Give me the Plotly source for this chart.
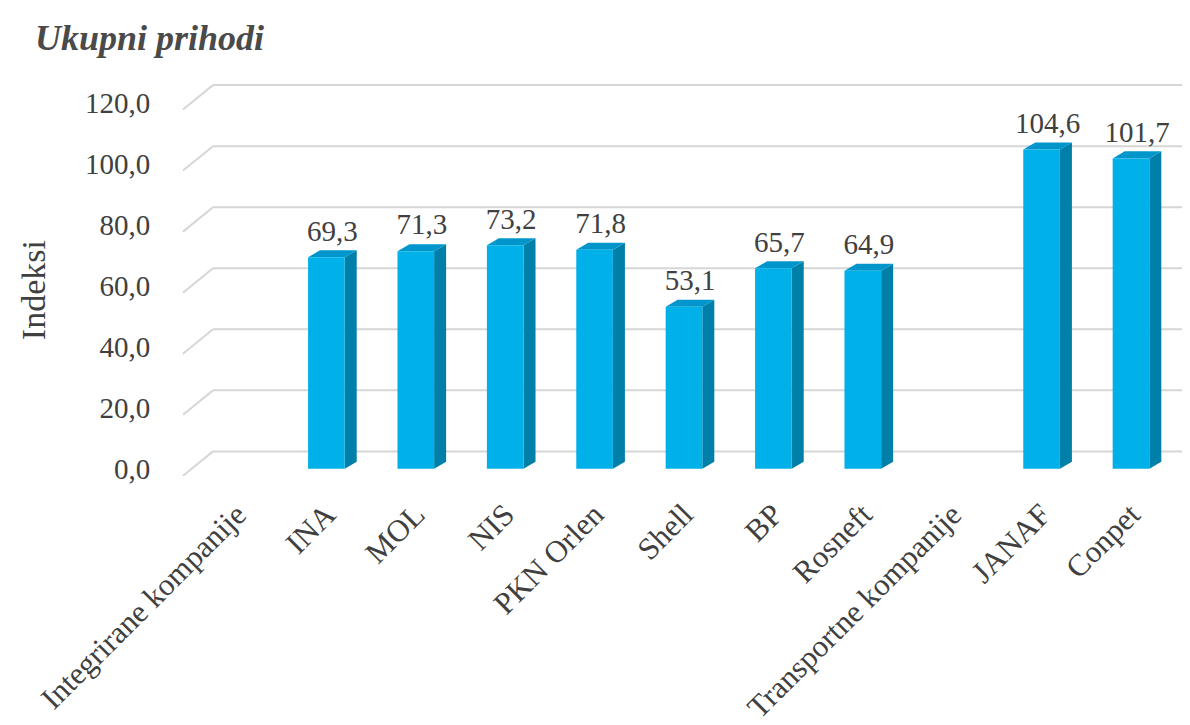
import plotly.graph_objects as go

categories = ["Integrirane kompanije", "INA", "MOL", "NIS", "PKN Orlen", "Shell",
              "BP", "Rosneft", "Transportne kompanije", "JANAF", "Conpet"]
values = [None, 69.3, 71.3, 73.2, 71.8, 53.1, 65.7, 64.9, None, 104.6, 101.7]
y_ticks = [0, 20, 40, 60, 80, 100, 120]

FRONT = "#00B0E8"
SIDE = "#007FA8"
TOP = "#0096CC"
GRID = "#D6D6D6"
TXT = "#404040"
FONT = "Liberation Serif"

OFF = 8  # default page body margin
W, H = 1190 - OFF, 725 - OFF
ML, MR, MT = 183 - OFF, 0, 72 - OFF
XR = [-0.604, 10.66]
YR = [-4, 130]
pw = W - ML - MR
px_y = 3.05
ph = (YR[1] - YR[0]) * px_y
MB = H - MT - ph
px_x = pw / (XR[1] - XR[0])

bw = 0.41
dx = 12 / px_x
dy = 7 / px_y

xs = list(range(len(categories)))
bx = [x for x, v in zip(xs, values) if v is not None]
bv = [v for v in values if v is not None]

fig = go.Figure()
fig.add_trace(go.Bar(x=bx, y=bv, width=bw, marker=dict(color=FRONT, line=dict(width=0)),
                     hoverinfo="skip", showlegend=False))
fig.add_trace(go.Scatter(x=[x + dx / 2 for x in bx], y=[v + dy + 0.8 for v in bv],
                         mode="text", text=[f"{v:.1f}".replace(".", ",") for v in bv],
                         textposition="top center",
                         textfont=dict(family=FONT, size=29, color=TXT),
                         hoverinfo="skip", showlegend=False))

shapes = []
gx0 = 0.0
gx1 = 30 / pw
back = 5.7
for v in y_ticks:
    shapes.append(dict(type="line", xref="paper", yref="y", x0=gx0, y0=v - 2.3, x1=gx1, y1=v + back,
                       line=dict(color=GRID, width=2), layer="below"))
    shapes.append(dict(type="line", xref="paper", yref="y", x0=gx1, y0=v + back, x1=1, y1=v + back,
                       line=dict(color=GRID, width=2), layer="below"))
for x, v in zip(bx, bv):
    x0 = x - bw / 2
    x1 = x + bw / 2
    side = f"M {x1},0 L {x1+dx},{dy} L {x1+dx},{v+dy} L {x1},{v} Z"
    top = f"M {x0},{v} L {x0+dx},{v+dy} L {x1+dx},{v+dy} L {x1},{v} Z"
    shapes.append(dict(type="path", xref="x", yref="y", path=side, fillcolor=SIDE,
                       line=dict(width=0), layer="below"))
    shapes.append(dict(type="path", xref="x", yref="y", path=top, fillcolor=TOP,
                       line=dict(width=0), layer="below"))


def px_to_paper_x(px):
    return (px - OFF - ML) / pw


def px_to_paper_y(py):
    return 1 - (py - OFF - MT) / ph


fig.update_layout(
    width=W, height=H,
    margin=dict(l=ML, r=MR, t=MT, b=MB, autoexpand=False),
    paper_bgcolor="white", plot_bgcolor="white",
    separators=",.",
    shapes=shapes,
    font=dict(family=FONT, color=TXT),
    xaxis=dict(range=XR, tickmode="array", tickvals=xs, ticktext=categories,
               tickangle=-45, tickfont=dict(family=FONT, size=31, color=TXT),
               showgrid=False, zeroline=False, showline=False,
               ticks="outside", ticklen=2, tickcolor="rgba(0,0,0,0)"),
    yaxis=dict(range=YR, tickmode="array", tickvals=y_ticks, tickformat=".1f",
               tickfont=dict(family=FONT, size=29, color=TXT),
               showgrid=False, zeroline=False, showline=False,
               ticks="outside", ticklen=26, tickcolor="rgba(0,0,0,0)"),
    annotations=[
        dict(text="Ukupni prihodi", xref="paper", yref="paper",
             x=px_to_paper_x(33), y=px_to_paper_y(38), xanchor="left", yanchor="middle",
             showarrow=False,
             font=dict(family=FONT, size=36, color="#4A4A4A", weight="bold", style="italic")),
        dict(text="Indeksi", xref="paper", yref="paper", textangle=-90,
             x=px_to_paper_x(33), y=px_to_paper_y(290),
             xanchor="center", yanchor="middle", showarrow=False,
             font=dict(family=FONT, size=34, color=TXT)),
    ],
)

fig.write_html("out.html")
